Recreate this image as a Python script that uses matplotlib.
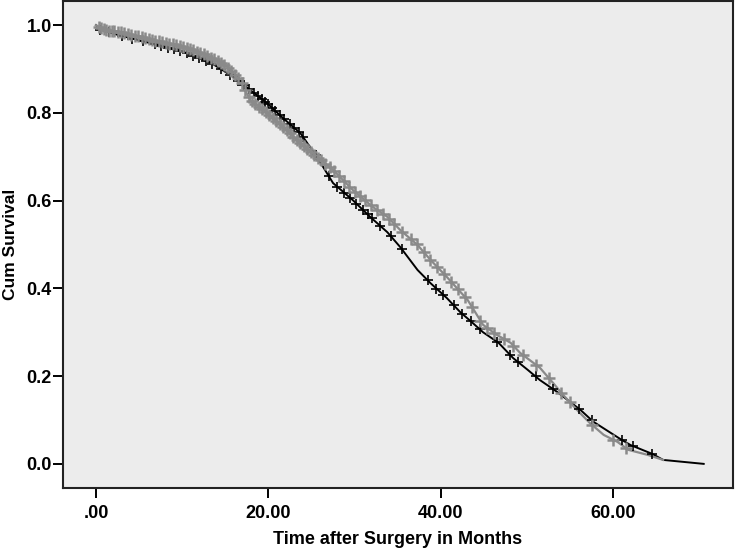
import numpy as np
import matplotlib
matplotlib.use("Agg")
import matplotlib.pyplot as plt

plt.rcParams['font.family'] = ['Liberation Sans', 'DejaVu Sans']

# Gray group survival curve (time in months, cumulative survival)
gray_t = [0.0, 1.0, 3.4, 6.5, 9.5, 12.3, 15.0, 16.7, 17.9, 19.85, 21.7, 23.7, 25.65,
          27.5, 29.8, 32.15, 33.8, 35.3, 37.3, 38.8, 40.7, 43.1, 44.9, 46.5, 48.1,
          49.2, 51.5, 53.0, 54.2, 55.8, 57.3, 58.9, 60.5, 61.75, 64.0, 65.8]
gray_s = [1.0, 0.989, 0.982, 0.966, 0.954, 0.936, 0.909, 0.875, 0.829, 0.800, 0.768,
          0.731, 0.699, 0.670, 0.624, 0.585, 0.563, 0.533, 0.499, 0.465, 0.426, 0.374,
          0.317, 0.294, 0.276, 0.253, 0.219, 0.185, 0.157, 0.123, 0.093, 0.066, 0.050,
          0.032, 0.0205, 0.009]

# Black group survival curve
black_t = [0.0, 0.5, 2.5, 6.5, 10.3, 13.5, 16.1, 17.9, 19.85, 21.7, 23.7, 25.65, 27.5,
           29.8, 31.8, 33.8, 35.3, 37.3, 38.8, 40.7, 42.25, 43.6, 44.9, 46.7, 48.4,
           50.1, 51.5, 53.5, 56.2, 57.7, 60.8, 62.0, 64.5, 65.8, 70.5]
black_s = [1.0, 0.99, 0.978, 0.958, 0.938, 0.912, 0.88, 0.852, 0.822, 0.788, 0.754,
           0.699, 0.640, 0.601, 0.563, 0.528, 0.494, 0.442, 0.412, 0.378, 0.346, 0.323,
           0.300, 0.276, 0.241, 0.214, 0.191, 0.164, 0.123, 0.096, 0.057, 0.043, 0.023,
           0.009, 0.0]

# Censoring times
gray_cens = [0.3, 0.6, 0.9, 1.2, 1.5, 1.8, 2.1, 2.5, 2.9, 3.3, 3.7, 4.1, 4.5, 4.9, 5.3,
             5.7, 6.1, 6.5, 6.9, 7.3, 7.7, 8.1, 8.5, 8.9, 9.3, 9.7, 10.1, 10.5, 10.9,
             11.3, 11.7, 12.1, 12.5, 12.9, 13.3, 13.7, 14.1, 14.5, 14.9, 15.3, 15.7,
             16.1, 16.5, 16.9, 17.3, 17.7, 18.1, 18.5, 18.9, 19.3, 19.7, 20.1, 20.5,
             20.9, 21.3, 21.7, 22.1, 22.5, 22.9, 23.3, 23.7, 24.1, 24.5, 24.9, 25.3,
             25.7, 26.1, 26.6, 27.1, 27.6, 28.2, 28.8, 29.4, 30.0, 30.6, 31.2, 31.9,
             32.6, 33.3, 34.0, 34.6, 35.5, 36.5, 37.2, 38.0, 38.8, 39.6, 40.4, 41.2,
             42.0, 42.8, 43.6, 44.6, 45.4, 46.2, 47.3, 48.4, 49.5, 51.0, 52.5, 54.0,
             55.0, 57.5, 60.0, 61.5]
black_cens = [0.5, 1.5, 3.0, 4.2, 5.5, 6.8, 7.5, 8.3, 9.0, 9.8, 10.5, 11.2, 12.0, 12.8,
              13.5, 14.5, 15.5, 16.5, 17.2, 17.8, 18.3, 18.8, 19.2, 19.6, 20.0, 20.4,
              20.8, 21.3, 21.8, 22.5, 23.0, 23.5, 24.0, 25.5, 27.0, 28.0, 28.8, 29.5,
              30.2, 31.0, 31.5, 32.0, 33.0, 34.2, 35.5, 38.5, 39.5, 40.3, 41.5, 42.5,
              43.5, 44.5, 46.5, 48.0, 49.0, 51.0, 53.0, 56.0, 57.5, 61.0, 62.3, 64.5]

x_ticks = [0, 20, 40, 60]
x_labels = ['.00', '20.00', '40.00', '60.00']
y_ticks = [0.0, 0.2, 0.4, 0.6, 0.8, 1.0]
y_labels = ['0.0', '0.2', '0.4', '0.6', '0.8', '1.0']

GRAY = '#8a8a8a'
BLACK = '#000000'

fig = plt.figure(figsize=(7.35, 5.52), dpi=100)
ax = fig.add_axes([63 / 735, 1 - 488 / 552, 670 / 735, 487 / 552])
ax.set_facecolor('#ececec')

ax.plot(black_t, black_s, color=BLACK, lw=1.4, zorder=2)
ax.plot(gray_t, gray_s, color=GRAY, lw=1.6, zorder=3)
ax.plot(gray_cens, np.interp(gray_cens, gray_t, gray_s), ls='none', marker='+',
        ms=9, mew=1.8, color=GRAY, zorder=4)
ax.plot(black_cens, np.interp(black_cens, black_t, black_s), ls='none', marker='+',
        ms=7, mew=1.2, color=BLACK, zorder=3.5)

ax.set_xlim(-3.83, 73.9)
ax.set_ylim(-0.055, 1.055)
ax.set_xticks(x_ticks)
ax.set_xticklabels(x_labels)
ax.set_yticks(y_ticks)
ax.set_yticklabels(y_labels)

for s in ['top', 'right', 'left', 'bottom']:
    ax.spines[s].set_linewidth(1.5)
    ax.spines[s].set_color('#222222')
ax.tick_params(direction='out', length=7, width=1.4, labelsize=13,
               top=False, right=False)
ax.tick_params(axis='x', pad=5)
ax.tick_params(axis='y', pad=1)
for lab in ax.get_xticklabels() + ax.get_yticklabels():
    lab.set_fontweight('bold')

ax.set_xlabel('Time after Surgery in Months', fontsize=13, fontweight='bold', labelpad=7)
ax.set_ylabel('Cum Survival', fontsize=12.5, fontweight='bold', labelpad=6)

fig.savefig('out.png', dpi=100)
